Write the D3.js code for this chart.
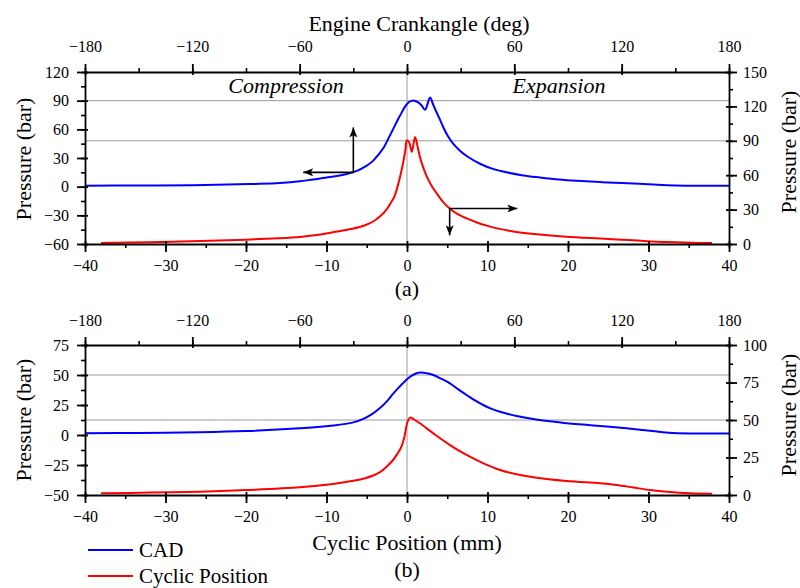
<!DOCTYPE html>
<html>
<head>
<meta charset="utf-8">
<script src="https://cdn.jsdelivr.net/npm/d3@7"></script>
<style>
  html, body { margin: 0; padding: 0; background: #fff; }
  svg { display: block; }
  svg text { font-family: "Liberation Serif", "Times New Roman", Times, "DejaVu Serif", serif; }
</style>
</head>
<body>
<svg id="chart" width="800" height="588"></svg>
<script>
// ── Data ──────────────────────────────────────────────────────
// (a) CAD curve: crank angle (deg) vs pressure, left axis
const aCadDeg = [-180,-150,-120,-100,-85,-71,-60,-52.4,-43,-33.7,-28,-22.5,-19,-16,-13,-10.5,-7.8,-5,-3,-1,0.8,2.5,4,6,8,10.1,12.9,14.5,16,18,20.1,23,25.9,29.6,34,40.8,48,55.7,65,74.3,85,95,108,120,130,140,150,165,180];
const aCadP   = [1.0,1.2,1.6,2.2,2.9,3.9,5.6,7.6,10,13.3,16.5,22,27,33.5,41,50,60,70.5,77.5,84,88,89.8,90,88.5,85.5,80.5,93.4,86.5,80,72,63,52.5,44.7,37.7,31.3,24,18.6,15,11.8,9.7,7.6,6.2,4.8,3.9,3.1,2.0,1.3,1.0,1.0];
// (a) cyclic position curve: position (mm) vs pressure, right axis
const aCycMm = [-38,-32,-25.7,-20,-16,-13.3,-11,-9.2,-7,-5.2,-4,-3.2,-2.5,-2,-1.5,-1.1,-0.75,-0.45,-0.2,-0.02,0.28,0.6,1.0,1.3,1.6,2.0,2.45,3.0,3.7,4.5,5.34,6.3,7.4,8.6,9.9,11.5,13.2,16.5,19.8,24,28.1,32.3,36.4,37.9];
const aCycP  = [0.9,1.5,2.6,3.8,5,6.2,8,10.3,13,16.3,20.5,25,30.5,36,42.5,52,62,72,82,90.4,88.5,80.5,93.3,85.5,76,67,59,51.5,44,36.5,30.7,26,22.3,19,16,13.2,11,8.3,6.3,4.7,3.2,1.7,0.9,0.9];
// (b) CAD curve
const bCadDeg = [-180,-150,-116,-90,-60,-41,-30,-24.4,-20,-15.1,-11,-7.7,-4,-1,2,5,7.8,11,14.7,19,24,28.5,33.4,38,42.6,47,52,56.5,61.3,70.6,80,89.3,100,108,118,126.5,135.8,142,148.9,163.8,180];
const bCadP   = [1.4,1.7,2.3,3.3,5.6,7.9,10.5,13.5,17,22.5,28.5,34.5,40.5,45,48.8,51.2,52.1,51.5,50,47,43.1,38.2,33.3,28.8,25,22,19.4,17.5,15.8,13.3,11.4,9.75,8.5,7.5,6.2,5,3.6,2.5,1.6,1.2,1.3];
// (b) cyclic position curve
const bCycMm = [-38,-32,-25.7,-20,-13.3,-9.2,-6.5,-5.2,-4.2,-3.35,-2.5,-1.7,-1.2,-0.8,-0.45,-0.2,0.05,0.4,0.8,1.6,3.27,5.34,7.4,9.5,11.55,13.6,15.7,19.8,24,26,28.1,30.2,32.3,35.2,37.9];
const bCycP  = [1.1,1.6,2.2,3.3,5.1,7.3,9.6,11.2,13,15.2,19,23.5,27.5,31,36,42,48.5,51.6,50.6,47.8,41.1,33.3,26.7,21.1,16.7,13.8,11.8,9.3,7.8,6.7,5,3.3,2.1,1.1,0.9];

// Tick values
const mmTicks   = [-40,-30,-20,-10,0,10,20,30,40];
const degTicks  = [-180,-120,-60,0,60,120,180];
const aLeftTicks  = [-60,-30,0,30,60,90,120];
const aRightTicks = [0,30,60,90,120,150];
const bLeftTicks  = [-50,-25,0,25,50,75];
const bRightTicks = [0,25,50,75,100];

const BLUE = "#0000ff", RED = "#ff0000";
const X0 = 85, X1 = 729;
const TICK_FS = 16, TITLE_FS = 22;

const svg = d3.select("#chart");

const xMm  = d3.scaleLinear().domain([-40, 40]).range([X0, X1]);
const xDeg = d3.scaleLinear().domain([-180, 180]).range([X0, X1]);

// arrow head
svg.append("defs").append("marker")
  .attr("id", "ah")
  .attr("viewBox", "0 0 10 8")
  .attr("refX", 10).attr("refY", 4)
  .attr("markerWidth", 11).attr("markerHeight", 8)
  .attr("markerUnits", "userSpaceOnUse")
  .attr("orient", "auto")
  .append("path").attr("d", "M0,0 L10,4 L0,8 L2.5,4 Z").attr("fill", "#000");

const panels = [
  { top: 72, bottom: 244, leftDom: [-60, 120], rightDom: [0, 150],
    leftTicks: aLeftTicks, rightTicks: aRightTicks, leftMinor: 15, rightMinor: 15,
    grid: [["L", 90], ["R", 90]],
    cad: [aCadDeg, aCadP], cyc: [aCycMm, aCycP],
    topPad: 12, rTitleY: 152, lTitleY: 159 },
  { top: 345, bottom: 495, leftDom: [-50, 75], rightDom: [0, 100],
    leftTicks: bLeftTicks, rightTicks: bRightTicks, leftMinor: 12.5, rightMinor: 12.5,
    grid: [["L", 50], ["R", 50]],
    cad: [bCadDeg, bCadP], cyc: [bCycMm, bCycP],
    topPad: 11, rTitleY: 415, lTitleY: 420 }
];

function styleAxis(g) {
  g.attr("font-family", null).attr("font-size", TICK_FS);
  g.selectAll("path.domain").attr("stroke", "#000").attr("stroke-width", 1.8);
  g.selectAll(".tick line").attr("stroke", "#000").attr("stroke-width", 1.8);
  g.selectAll(".tick text").attr("fill", "#000");
}

function minorAxis(g, axisFn, scale, dom, step, tx) {
  const vals = d3.range(dom[0], dom[1] + 1e-6, step);
  const a = g.append("g").attr("transform", tx)
    .call(axisFn(scale).tickValues(vals).tickSize(4).tickFormat(""));
  a.select("path.domain").remove();
  a.selectAll(".tick line").attr("stroke", "#000").attr("stroke-width", 1.6);
}

panels.forEach(p => {
  const yL = d3.scaleLinear().domain(p.leftDom).range([p.bottom, p.top]);
  const yR = d3.scaleLinear().domain(p.rightDom).range([p.bottom, p.top]);
  const g = svg.append("g");

  // grid lines
  p.grid.forEach(([side, v]) => {
    const y = side === "L" ? yL(v) : yR(v);
    g.append("line").attr("x1", X0).attr("x2", X1).attr("y1", y).attr("y2", y)
      .attr("stroke", "#9a9a9a").attr("stroke-width", 1);
  });
  g.append("line").attr("x1", xMm(0)).attr("x2", xMm(0))
    .attr("y1", p.top).attr("y2", p.bottom)
    .attr("stroke", "#9a9a9a").attr("stroke-width", 1);

  // curves
  const cadLine = d3.line().curve(d3.curveCatmullRom.alpha(0.5))
    .x(i => xDeg(p.cad[0][i])).y(i => yL(p.cad[1][i]));
  const cycLine = d3.line().curve(d3.curveCatmullRom.alpha(0.5))
    .x(i => xMm(p.cyc[0][i])).y(i => yR(p.cyc[1][i]));
  g.append("path").attr("d", cadLine(d3.range(p.cad[0].length)))
    .attr("fill", "none").attr("stroke", BLUE).attr("stroke-width", 2);
  g.append("path").attr("d", cycLine(d3.range(p.cyc[0].length)))
    .attr("fill", "none").attr("stroke", RED).attr("stroke-width", 2);

  // minor ticks
  minorAxis(g, d3.axisBottom, xMm, [-40, 40], 5, `translate(0,${p.bottom})`);
  minorAxis(g, d3.axisTop, xDeg, [-180, 180], 30, `translate(0,${p.top})`);
  minorAxis(g, d3.axisLeft, yL, p.leftDom, p.leftMinor, `translate(${X0},0)`);
  minorAxis(g, d3.axisRight, yR, p.rightDom, p.rightMinor, `translate(${X1},0)`);

  // major axes (ticks cross the axis line)
  const ab = g.append("g").attr("transform", `translate(0,${p.bottom})`)
    .call(d3.axisBottom(xMm).tickValues(mmTicks).tickSizeInner(8).tickSizeOuter(0).tickPadding(8));
  ab.selectAll(".tick line").attr("y1", -3);
  styleAxis(ab);

  const at = g.append("g").attr("transform", `translate(0,${p.top})`)
    .call(d3.axisTop(xDeg).tickValues(degTicks).tickSizeInner(8).tickSizeOuter(0).tickPadding(p.topPad));
  at.selectAll(".tick line").attr("y1", 3);
  styleAxis(at);

  const al = g.append("g").attr("transform", `translate(${X0},0)`)
    .call(d3.axisLeft(yL).tickValues(p.leftTicks).tickSizeInner(8).tickSizeOuter(0).tickPadding(8));
  al.selectAll(".tick line").attr("x1", 3);
  styleAxis(al);

  const ar = g.append("g").attr("transform", `translate(${X1},0)`)
    .call(d3.axisRight(yR).tickValues(p.rightTicks).tickSizeInner(8).tickSizeOuter(0).tickPadding(6));
  ar.selectAll(".tick line").attr("x1", -3);
  styleAxis(ar);

  // axis titles
  g.append("text").attr("transform", `translate(31,${p.lTitleY}) rotate(-90)`)
    .attr("text-anchor", "middle").attr("font-size", TITLE_FS).text("Pressure (bar)");
  g.append("text").attr("transform", `translate(796,${p.rTitleY}) rotate(-90)`)
    .attr("text-anchor", "middle").attr("font-size", TITLE_FS).text("Pressure (bar)");

  p.yL = yL; p.yR = yR;
});

// panel (a) annotations
const pa = panels[0];
svg.append("text").attr("x", 286).attr("y", 93).attr("text-anchor", "middle")
  .attr("font-size", TITLE_FS).attr("font-style", "italic").text("Compression");
svg.append("text").attr("x", 559).attr("y", 93).attr("text-anchor", "middle")
  .attr("font-size", TITLE_FS).attr("font-style", "italic").text("Expansion");

function arrow(x1, y1, x2, y2) {
  svg.append("line").attr("x1", x1).attr("y1", y1).attr("x2", x2).attr("y2", y2)
    .attr("stroke", "#000").attr("stroke-width", 1.6).attr("marker-end", "url(#ah)");
}
// CAD arrows: up to the crank-angle axis, left to the left pressure axis
arrow(xDeg(-30), pa.yL(15), xDeg(-30), pa.yL(62));
arrow(xDeg(-30), pa.yL(15), xDeg(-58), pa.yL(15));
// cyclic arrows: right to the right axis, down to the position axis
arrow(xMm(5.3), pa.yR(31), xMm(13.7), pa.yR(31));
arrow(xMm(5.3), pa.yR(31), xMm(5.3), pa.yR(7.6));

// titles
svg.append("text").attr("x", 419).attr("y", 31).attr("text-anchor", "middle")
  .attr("font-size", TITLE_FS).text("Engine Crankangle (deg)");
svg.append("text").attr("x", 407).attr("y", 296).attr("text-anchor", "middle")
  .attr("font-size", TITLE_FS).text("(a)");
svg.append("text").attr("x", 407).attr("y", 550).attr("text-anchor", "middle")
  .attr("font-size", TITLE_FS).text("Cyclic Position (mm)");
svg.append("text").attr("x", 407).attr("y", 577).attr("text-anchor", "middle")
  .attr("font-size", TITLE_FS).text("(b)");

// legend
const legend = [["CAD", BLUE], ["Cyclic Position", RED]];
legend.forEach(([name, col], i) => {
  const y = 550 + i * 26;
  svg.append("line").attr("x1", 88).attr("x2", 133).attr("y1", y).attr("y2", y)
    .attr("stroke", col).attr("stroke-width", 2);
  svg.append("text").attr("x", 139).attr("y", y + 7).attr("font-size", 21).text(name);
});
</script>
</body>
</html>
